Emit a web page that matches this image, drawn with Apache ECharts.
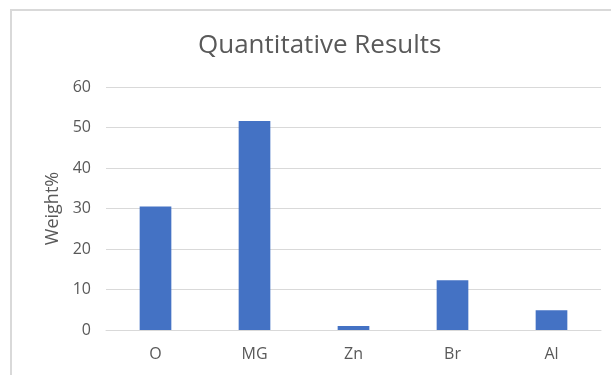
<!DOCTYPE html>
<html>
<head>
<meta charset="utf-8">
<style>
  html, body { margin: 0; padding: 0; background: #ffffff; }
  #chart { width: 611px; height: 375px; }
</style>
<script src="https://cdn.jsdelivr.net/npm/echarts@6/dist/echarts.min.js"></script>
</head>
<body>
<div id="chart"></div>
<script>
// Element composition (weight %)
const elements = ['O', 'MG', 'Zn', 'Br', 'Al'];
const weightPercent = [30.5, 51.6, 1.0, 12.3, 4.9];
const yTicks = [0, 10, 20, 30, 40, 50, 60];

const chart = echarts.init(document.getElementById('chart'), null, { renderer: 'canvas' });

const textColor = '#595959';
const fontFamily = 'Open Sans, Noto Sans, sans-serif';

chart.setOption({
  animation: false,
  backgroundColor: '#ffffff',
  graphic: [{
    type: 'rect',
    shape: { x: 11, y: 10, width: 700, height: 500 },
    style: { fill: 'none', stroke: '#d9d9d9', lineWidth: 2 },
    silent: true
  }],
  title: {
    text: 'Quantitative Results',
    left: 193,
    top: 28,
    textStyle: { color: textColor, fontSize: 26, fontWeight: 'normal', fontFamily: fontFamily }
  },
  grid: { left: 106, right: 10, top: 87, bottom: 45 },
  xAxis: {
    type: 'category',
    data: elements,
    axisLine: { show: true, lineStyle: { color: '#d9d9d9', width: 1 } },
    axisTick: { show: false },
    axisLabel: { color: textColor, fontSize: 16, margin: 16, fontFamily: fontFamily }
  },
  yAxis: {
    type: 'value',
    min: yTicks[0],
    max: yTicks[yTicks.length - 1],
    interval: 10,
    name: 'Weight%',
    nameLocation: 'middle',
    nameGap: 44,
    nameRotate: 90,
    nameTextStyle: { color: textColor, fontSize: 18, fontFamily: fontFamily },
    axisLine: { show: false },
    axisTick: { show: false },
    axisLabel: { color: textColor, fontSize: 16, margin: 15, fontFamily: fontFamily },
    splitLine: { lineStyle: { color: '#d9d9d9', width: 1 } }
  },
  series: [{
    type: 'bar',
    data: weightPercent,
    barWidth: '32%',
    itemStyle: { color: '#4472C4' }
  }]
});
</script>
</body>
</html>
